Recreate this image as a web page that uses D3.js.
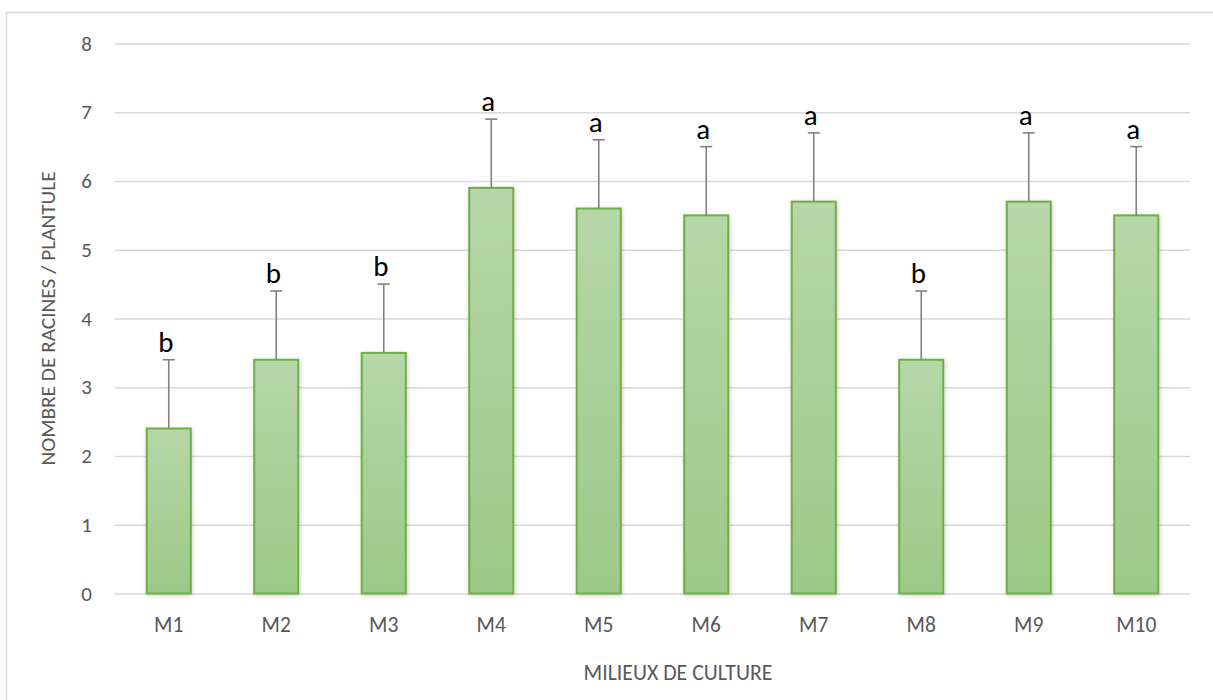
<!DOCTYPE html>
<html>
<head>
<meta charset="utf-8">
<script src="https://cdn.jsdelivr.net/npm/d3@7"></script>
<style>
  html, body { margin: 0; padding: 0; background: #fff; }
  svg { display: block; font-family: Carlito, Calibri, Lato, sans-serif; }
</style>
</head>
<body>
<svg id="chart" width="1213" height="700"></svg>
<script>
const categories = ["M1","M2","M3","M4","M5","M6","M7","M8","M9","M10"];
const means      = [2.4, 3.4, 3.5, 5.9, 5.6, 5.5, 5.7, 3.4, 5.7, 5.5];
const errors     = [1.0, 1.0, 1.0, 1.0, 1.0, 1.0, 1.0, 1.0, 1.0, 1.0];
const groups     = ["b","b","b","a","a","a","a","b","a","a"];
const yTicks     = [0,1,2,3,4,5,6,7,8];
const yTitle = "NOMBRE DE RACINES / PLANTULE";
const xTitle = "MILIEUX DE CULTURE";

const svg = d3.select("#chart");
const W = 1213, H = 700;
const plot = {left: 115, right: 1190, top: 43.5, bottom: 593.5};

// outer chart border
svg.append("rect").attr("x", 6.5).attr("y", 12.5).attr("width", W).attr("height", H)
  .attr("fill", "none").attr("stroke", "#d9d9d9").attr("stroke-width", 1.5);

const defs = svg.append("defs");
const grad = defs.append("linearGradient").attr("id", "barGrad")
  .attr("x1", 0).attr("y1", 0).attr("x2", 0).attr("y2", 1);
grad.append("stop").attr("offset", "0%").attr("stop-color", "#b6d7a8");
grad.append("stop").attr("offset", "100%").attr("stop-color", "#9cc987");
const shadow = defs.append("filter").attr("id", "shadow")
  .attr("x", "-30%").attr("y", "-10%").attr("width", "160%").attr("height", "120%");
shadow.append("feDropShadow").attr("dx", 1).attr("dy", 1).attr("stdDeviation", 2)
  .attr("flood-color", "#000").attr("flood-opacity", 0.18);

const x = d3.scaleBand().domain(categories).range([plot.left, plot.right])
  .paddingInner(0.59).paddingOuter(0.295);
const y = d3.scaleLinear().domain([0, 8]).range([plot.bottom, plot.top]);

// gridlines + y tick labels
const yAxis = d3.axisLeft(y).tickValues(yTicks).tickSize(-(plot.right - plot.left)).tickPadding(23).tickFormat(d3.format("d"));
const gy = svg.append("g").attr("transform", `translate(${plot.left},0)`).call(yAxis);
gy.select(".domain").remove();
gy.selectAll(".tick line").attr("stroke", "#d9d9d9").attr("stroke-width", 1.5);
gy.selectAll(".tick text").attr("fill", "#595959").attr("font-size", 21)
  .attr("font-family", "Carlito, Calibri, Lato, sans-serif");

// x tick labels
const xAxis = d3.axisBottom(x).tickSize(0).tickPadding(23);
const gx = svg.append("g").attr("transform", `translate(0,${plot.bottom})`).call(xAxis);
gx.select(".domain").remove();
gx.selectAll(".tick text").attr("fill", "#595959").attr("font-size", 21.5)
  .attr("font-family", "Carlito, Calibri, Lato, sans-serif");

// bars
svg.append("g").selectAll("rect").data(categories).join("rect")
  .attr("x", d => x(d))
  .attr("y", (d, i) => y(means[i]))
  .attr("width", x.bandwidth())
  .attr("height", (d, i) => y(0) - y(means[i]))
  .attr("fill", "url(#barGrad)")
  .attr("stroke", "#70ad47").attr("stroke-width", 2)
  .attr("filter", "url(#shadow)");

// error bars (plus only)
const eg = svg.append("g").attr("stroke", "#808080").attr("stroke-width", 1.6);
categories.forEach((c, i) => {
  const cx = x(c) + x.bandwidth() / 2;
  eg.append("line").attr("x1", cx).attr("x2", cx)
    .attr("y1", y(means[i])).attr("y2", y(means[i] + errors[i]));
  eg.append("line").attr("x1", cx - 6).attr("x2", cx + 6)
    .attr("y1", y(means[i] + errors[i])).attr("y2", y(means[i] + errors[i]));
});

// significance letters
svg.append("g").selectAll("text").data(categories).join("text")
  .attr("x", d => x(d) + x.bandwidth() / 2 - 3)
  .attr("y", (d, i) => y(means[i] + errors[i]) - 8)
  .attr("text-anchor", "middle")
  .attr("font-size", 29).attr("fill", "#000")
  .text((d, i) => groups[i]);

// axis titles
svg.append("text").attr("x", 678).attr("y", 680).attr("text-anchor", "middle")
  .attr("font-size", 21.8).attr("fill", "#595959").text(xTitle);
svg.append("text").attr("transform", `translate(55,${(plot.top + plot.bottom) / 2}) rotate(-90)`)
  .attr("text-anchor", "middle").attr("font-size", 21.3).attr("fill", "#595959").text(yTitle);
</script>
</body>
</html>
